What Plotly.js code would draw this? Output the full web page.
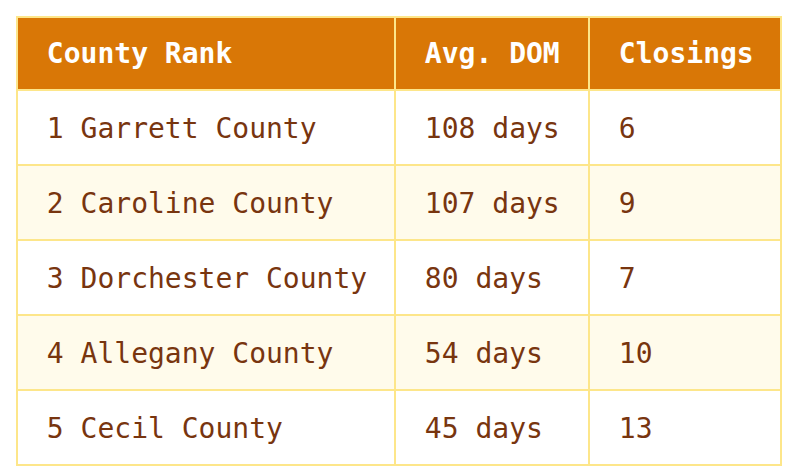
<!DOCTYPE html>
<html><head><meta charset="utf-8">
<script src="https://cdn.plot.ly/plotly-3.0.1.min.js"></script>
<style>body{margin:0;padding:0;background:#fff}#chart{width:802px;height:471px}
.scrollbar-kit,.scrollbar-glyph,.scrollbar-capture-zone{display:none!important}</style>
</head><body><div id="chart"></div>
<script>
const headers = ["County Rank", "Avg. DOM", "Closings"];
const counties = ["1 Garrett County", "2 Caroline County", "3 Dorchester County", "4 Allegany County", "5 Cecil County"];
const avgDom = ["108 days", "107 days", "80 days", "54 days", "45 days"];
const closings = ["6", "9", "7", "10", "13"];

const W = 802, H = 471;
const pad = s => " " + s;
const rowFill = counties.map((_, i) => i % 2 === 0 ? "#ffffff" : "#fffbeb");
const colW = [378, 194, 192];
const fontFam = "DejaVu Sans Mono, monospace";

// base table: fills and grid lines only
const base = {
  type: "table",
  columnwidth: colW,
  domain: {x: [17 / W, 781 / W], y: [0, 1 - 17 / H]},
  header: {
    values: headers.map(() => ""),
    height: 73,
    fill: {color: "#d97706"},
    line: {color: "#fde68a", width: 2},
    font: {family: fontFam, size: 28, color: "#ffffff"}
  },
  cells: {
    values: [counties.map(() => ""), avgDom.map(() => ""), closings.map(() => "")],
    height: 75,
    fill: {color: [rowFill, rowFill, rowFill]},
    line: {color: "#fde68a", width: 2},
    font: {family: fontFam, size: 28, color: "#78350f"}
  }
};

// text layer, shifted to centre the text in each cell
const textLayer = {
  type: "table",
  columnwidth: colW,
  domain: {x: [22 / W, 786 / W], y: [0, 1 - 29 / H]},
  header: {
    values: headers.map(h => "<b>" + pad(h) + "</b>"),
    align: "left",
    height: 80,
    fill: {color: "rgba(0,0,0,0)"},
    line: {color: "rgba(0,0,0,0)", width: 0},
    font: {family: fontFam, size: 28, color: "#ffffff"}
  },
  cells: {
    values: [counties.map(pad), avgDom.map(pad), closings.map(pad)],
    align: "left",
    height: 75,
    fill: {color: "rgba(0,0,0,0)"},
    line: {color: "rgba(0,0,0,0)", width: 0},
    font: {family: fontFam, size: 28, color: "#78350f"}
  }
};

const layout = {
  width: W, height: H,
  margin: {l: 0, r: 0, t: 0, b: 0},
  paper_bgcolor: "#ffffff"
};
Plotly.newPlot("chart", [base, textLayer], layout, {displayModeBar: false, staticPlot: true});
</script></body></html>
